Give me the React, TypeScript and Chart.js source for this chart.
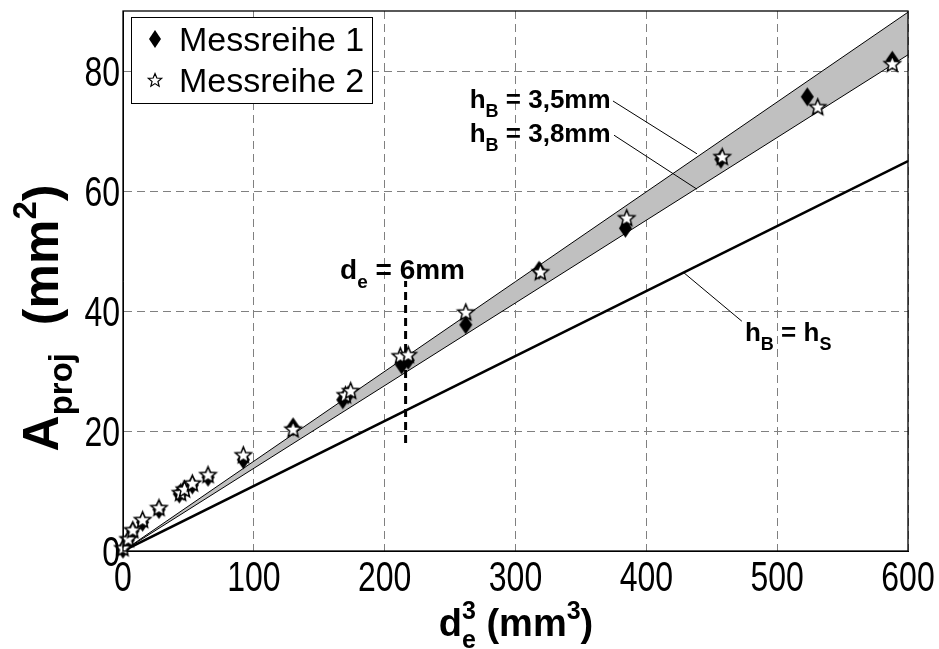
import { useEffect, useRef } from "react";
import { Chart, registerables } from "chart.js";

Chart.register(...registerables);

// ---- data ----
const reihe1X = [0, 4, 7.5, 15, 27.5, 43, 46, 53, 65, 92, 130, 168, 172, 213, 218, 262, 318, 384, 457, 523, 588];
const reihe1Y = [0.3, 1.8, 3.3, 4.8, 6.9, 9.5, 10, 11, 12.3, 15.2, 20.7, 25.2, 26, 31, 31.8, 37.7, 46.8, 53.8, 65.3, 75.7, 81.8];

const reihe2X = [0, 4, 7.5, 15, 27.5, 44, 47, 53, 65, 92, 130, 170, 174, 212, 218, 262, 319, 385, 458, 531, 588];
const reihe2Y = [0.5, 2, 3.5, 5.2, 7.2, 9.7, 10.3, 11.3, 12.7, 16, 20.3, 26, 26.7, 32.5, 32.7, 39.8, 46.5, 55.5, 65.7, 74, 81.2];

const lineX = [0, 600];
const h35Y = [0, 89.8]; // h_B = 3,5mm
const h38Y = [0, 82.7]; // h_B = 3,8mm
const hSY = [0, 65]; // h_B = h_S

const de6X = [216, 216];
const de6Y = [18, 45];

const leader35X = [374.5, 438.7];
const leader35Y = [75, 66.2];
const leader38X = [375.3, 438.7];
const leader38Y = [69.3, 60.3];
const leaderSX = [428, 473];
const leaderSY = [46.5, 38.3];

const xTicks = [0, 100, 200, 300, 400, 500, 600];
const yTicks = [0, 20, 40, 60, 80];

const legendLabels = ["Messreihe 1", "Messreihe 2"];

type Part = { t: string; size: number; dy: number; stack?: boolean };

const FONT = "'Liberation Sans', Arial, sans-serif";

function pts(xs: number[], ys: number[]) {
  return xs.map((x, i) => ({ x, y: ys[i] }));
}

function makeStar(R: number, r: number, lw: number): HTMLCanvasElement {
  const s = Math.ceil(R * 2 + 4);
  const c = document.createElement("canvas");
  c.width = s;
  c.height = s;
  const g = c.getContext("2d")!;
  const cx = s / 2, cy = s / 2 + 0.5;
  g.beginPath();
  for (let i = 0; i < 10; i++) {
    const a = -Math.PI / 2 + (i * Math.PI) / 5;
    const rr = i % 2 === 0 ? R : r;
    const px = cx + rr * Math.cos(a);
    const py = cy + rr * Math.sin(a);
    if (i === 0) g.moveTo(px, py);
    else g.lineTo(px, py);
  }
  g.closePath();
  g.fillStyle = "#ffffff";
  g.fill();
  g.lineWidth = lw;
  g.strokeStyle = "#000000";
  g.lineJoin = "miter";
  g.stroke();
  return c;
}

function makeDiamond(w: number, h: number): HTMLCanvasElement {
  const c = document.createElement("canvas");
  c.width = w + 2;
  c.height = h + 2;
  const g = c.getContext("2d")!;
  g.beginPath();
  g.moveTo(1 + w / 2, 1);
  g.lineTo(1 + w, 1 + h / 2);
  g.lineTo(1 + w / 2, 1 + h);
  g.lineTo(1, 1 + h / 2);
  g.closePath();
  g.fillStyle = "#000000";
  g.fill();
  return c;
}

function partsWidth(ctx: CanvasRenderingContext2D, parts: Part[], weight: string) {
  let w = 0;
  let stackW = 0;
  for (const p of parts) {
    ctx.font = `${weight} ${p.size}px ${FONT}`;
    const m = ctx.measureText(p.t).width;
    if (p.stack) {
      stackW = m;
    } else {
      w += Math.max(m, stackW);
      stackW = 0;
    }
  }
  return w + stackW;
}

function drawParts(ctx: CanvasRenderingContext2D, x: number, y: number, parts: Part[], weight: string) {
  let cx = x;
  let stackW = 0;
  for (const p of parts) {
    ctx.font = `${weight} ${p.size}px ${FONT}`;
    ctx.fillText(p.t, cx, y + p.dy);
    const m = ctx.measureText(p.t).width;
    if (p.stack) {
      stackW = m;
    } else {
      cx += Math.max(m, stackW);
      stackW = 0;
    }
  }
}

const label35: Part[] = [
  { t: "h", size: 26, dy: 0 },
  { t: "B", size: 18, dy: 9 },
  { t: " = 3,5mm", size: 26, dy: 0 },
];
const label38: Part[] = [
  { t: "h", size: 26, dy: 0 },
  { t: "B", size: 18, dy: 9 },
  { t: " = 3,8mm", size: 26, dy: 0 },
];
const labelS: Part[] = [
  { t: "h", size: 26, dy: 0 },
  { t: "B", size: 18, dy: 9 },
  { t: " = h", size: 26, dy: 0 },
  { t: "S", size: 18, dy: 9 },
];
const labelDe: Part[] = [
  { t: "d", size: 28, dy: 0 },
  { t: "e", size: 19, dy: 9 },
  { t: " = 6mm", size: 28, dy: 0 },
];
const annotations: { parts: Part[]; x: number; y: number }[] = [
  { parts: label35, x: 265, y: 73.8 },
  { parts: label38, x: 265, y: 68.2 },
  { parts: labelS, x: 475.4, y: 35 },
  { parts: labelDe, x: 165.9, y: 45.3 },
];

const xTitle: Part[] = [
  { t: "d", size: 38, dy: 0 },
  { t: "3", size: 25, dy: -17, stack: true },
  { t: "e", size: 25, dy: 12 },
  { t: " (mm", size: 38, dy: 0 },
  { t: "3", size: 25, dy: -17 },
  { t: ")", size: 38, dy: 0 },
];
const yTitle: Part[] = [
  { t: "A", size: 50, dy: 0 },
  { t: "proj", size: 33, dy: 14 },
  { t: "  (mm", size: 50, dy: 0 },
  { t: "2", size: 33, dy: -22 },
  { t: ")", size: 50, dy: 0 },
];

const TICK_SIZE = 32;
const TICK_STRETCH = 1.35;

export default function App() {
  const ref = useRef<HTMLCanvasElement | null>(null);

  useEffect(() => {
    document.body.style.margin = "0";
    const canvas = ref.current;
    if (!canvas) return;
    const star = makeStar(8.5, 3.8, 1.5);
    const diamond = makeDiamond(13, 19);
    const legendStar = makeStar(7, 3.1, 1.2);
    const legendDiamond = makeDiamond(12, 18);

    const overlay = {
      id: "overlay",
      afterDraw(chart: any) {
        const { ctx, chartArea: a, scales } = chart;
        const xs = scales.x;
        const ys = scales.y;
        ctx.save();
        // frame
        ctx.strokeStyle = "#000";
        ctx.lineWidth = 1.3;
        ctx.setLineDash([]);
        ctx.strokeRect(a.left, a.top, a.right - a.left, a.bottom - a.top);

        // tick labels (tall, condensed look)
        ctx.fillStyle = "#000";
        ctx.textBaseline = "alphabetic";
        ctx.font = `${TICK_SIZE}px ${FONT}`;
        const cap = TICK_SIZE * 0.716 * TICK_STRETCH;
        ctx.textAlign = "center";
        for (const t of xs.ticks) {
          ctx.save();
          ctx.translate(xs.getPixelForValue(t.value), a.bottom + 40);
          ctx.scale(1, TICK_STRETCH);
          ctx.fillText(String(t.value), 0, 0);
          ctx.restore();
        }
        ctx.textAlign = "right";
        for (const t of ys.ticks) {
          ctx.save();
          ctx.translate(a.left - 3, ys.getPixelForValue(t.value) + cap / 2);
          ctx.scale(1, TICK_STRETCH);
          ctx.fillText(String(t.value), 0, 0);
          ctx.restore();
        }

        // annotations
        ctx.textAlign = "left";
        for (const an of annotations) {
          drawParts(ctx, xs.getPixelForValue(an.x), ys.getPixelForValue(an.y), an.parts, "bold");
        }

        // legend
        const lx = 131, ly = 17, lw = 241, lh = 86;
        ctx.fillStyle = "#fff";
        ctx.fillRect(lx, ly, lw, lh);
        ctx.strokeStyle = "#000";
        ctx.lineWidth = 1;
        ctx.strokeRect(lx + 0.5, ly + 0.5, lw, lh);
        ctx.drawImage(legendDiamond, 155 - legendDiamond.width / 2, 39 - legendDiamond.height / 2);
        ctx.drawImage(legendStar, 155 - legendStar.width / 2, 80 - legendStar.height / 2);
        ctx.fillStyle = "#000";
        ctx.font = `34px ${FONT}`;
        ctx.fillText(legendLabels[0], 179, 51);
        ctx.fillText(legendLabels[1], 179, 92);

        // x title
        const xw = partsWidth(ctx, xTitle, "bold");
        const xc = 516;
        drawParts(ctx, xc - xw / 2, 636, xTitle, "bold");

        // y title
        const yw = partsWidth(ctx, yTitle, "bold");
        ctx.translate(58, 318);
        ctx.rotate(-Math.PI / 2);
        drawParts(ctx, -yw / 2, 0, yTitle, "bold");
        ctx.restore();
      },
    };

    const chart = new Chart(canvas, {
      type: "line",
      data: {
        datasets: [
          {
            label: legendLabels[1],
            data: pts(reihe2X, reihe2Y),
            showLine: false,
            pointStyle: star as any,
            pointRadius: 8,
            clip: false as any,
            order: 0,
          },
          {
            label: legendLabels[0],
            data: pts(reihe1X, reihe1Y),
            showLine: false,
            pointStyle: diamond as any,
            pointRadius: 8,
            clip: false as any,
            order: 1,
          },
          {
            label: "leader35",
            data: pts(leader35X, leader35Y),
            borderColor: "#000",
            borderWidth: 1,
            pointRadius: 0,
            order: 2,
          },
          {
            label: "leader38",
            data: pts(leader38X, leader38Y),
            borderColor: "#000",
            borderWidth: 1,
            pointRadius: 0,
            order: 2,
          },
          {
            label: "leaderS",
            data: pts(leaderSX, leaderSY),
            borderColor: "#000",
            borderWidth: 1,
            pointRadius: 0,
            order: 2,
          },
          {
            label: "de6",
            data: pts(de6X, de6Y),
            borderColor: "#000",
            borderWidth: 3,
            borderDash: [8, 5],
            pointRadius: 0,
            order: 2,
          },
          {
            label: "hS",
            data: pts(lineX, hSY),
            borderColor: "#000",
            borderWidth: 2.5,
            pointRadius: 0,
            order: 3,
          },
          {
            label: "h35",
            data: pts(lineX, h35Y),
            borderColor: "#000",
            borderWidth: 1,
            pointRadius: 0,
            fill: "+1",
            backgroundColor: "#c0c0c0",
            order: 5,
          },
          {
            label: "h38",
            data: pts(lineX, h38Y),
            borderColor: "#000",
            borderWidth: 1,
            pointRadius: 0,
            order: 4,
          },
        ],
      },
      options: {
        responsive: false,
        animation: false,
        events: [],
        layout: { padding: { left: 0, top: 11, right: 31, bottom: 0 } },
        plugins: {
          legend: { display: false },
          tooltip: { enabled: false },
        },
        scales: {
          x: {
            type: "linear",
            min: xTicks[0],
            max: xTicks[xTicks.length - 1],
            afterBuildTicks(scale: any) {
              scale.ticks = xTicks.map((v) => ({ value: v }));
            },
            afterFit(scale: any) {
              scale.height = 98;
              scale.paddingLeft = 0;
              scale.paddingRight = 0;
            },
            grid: { color: "#808080", lineWidth: 1, drawTicks: false },
            border: { display: true, color: "#000", width: 1, dash: [8, 5] },
            ticks: { display: false },
          },
          y: {
            type: "linear",
            min: 0,
            max: 90,
            afterBuildTicks(scale: any) {
              scale.ticks = yTicks.map((v) => ({ value: v }));
            },
            afterFit(scale: any) {
              scale.width = 123;
              scale.paddingTop = 0;
              scale.paddingBottom = 0;
            },
            grid: { color: "#808080", lineWidth: 1, drawTicks: false },
            border: { display: true, color: "#000", width: 1, dash: [8, 5] },
            ticks: { display: false },
          },
        },
      },
      plugins: [overlay],
    });
    return () => chart.destroy();
  }, []);

  return (
    <div style={{ width: 939, height: 649 }}>
      <canvas ref={ref} width={939} height={649} style={{ display: "block" }} />
    </div>
  );
}
